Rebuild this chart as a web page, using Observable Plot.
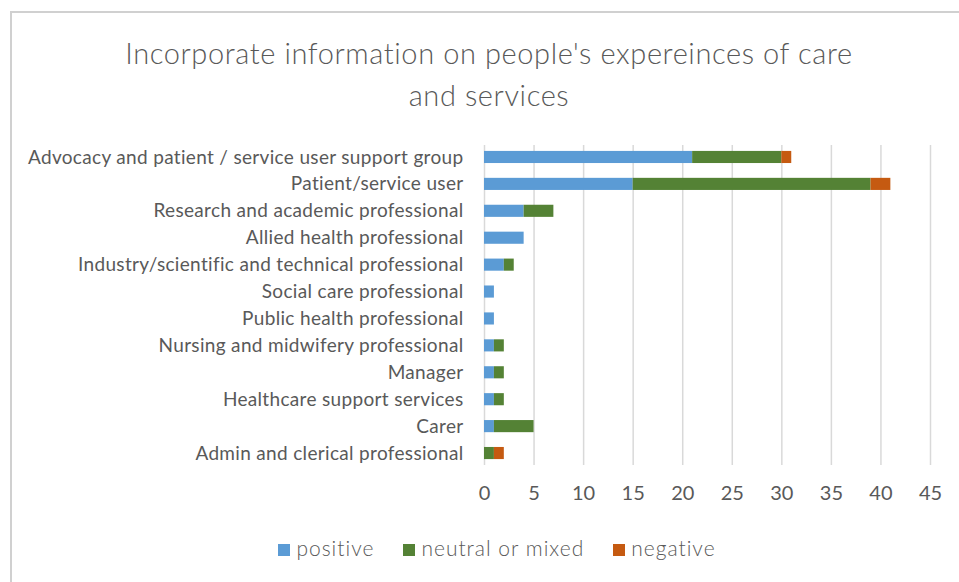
<!DOCTYPE html>
<html><head><meta charset="utf-8">
<script src="https://cdn.jsdelivr.net/npm/d3@7"></script>
<script src="https://cdn.jsdelivr.net/npm/@observablehq/plot@0.6"></script>
<style>
body{margin:0;background:#fff;font-family:Lato,"Open Sans",sans-serif;}
#wrap{position:relative;width:959px;height:582px;overflow:hidden;}
#frame{position:absolute;left:10px;top:11px;width:960px;height:600px;border-left:2px solid #d0d0d0;border-top:2px solid #d0d0d0;}
#title{position:absolute;left:0;top:32px;width:978px;text-align:center;font-size:29px;letter-spacing:0.6px;font-weight:300;color:#595959;line-height:42px;}
#chart{position:absolute;left:0;top:130px;}
#legend{position:absolute;left:0;top:535px;width:994px;display:flex;justify-content:center;gap:29px;font-size:21px;letter-spacing:1px;font-weight:300;color:#595959;}
#legend span.sw{display:inline-block;width:12px;height:12px;margin-right:6px;vertical-align:middle;position:relative;top:-1px;}
</style></head>
<body><div id="wrap"><div id="frame"></div>
<div id="title">Incorporate information on people's expereinces of care<br>and services</div>
<div id="chart"></div>
<div id="legend"></div>
</div>
<script>
const categories = ["Advocacy and patient / service user support group","Patient/service user","Research and academic professional","Allied health professional","Industry/scientific and technical professional","Social care professional","Public health professional","Nursing and midwifery professional","Manager","Healthcare support services","Carer","Admin and clerical professional"];
const positive = [21,15,4,4,2,1,1,1,1,1,1,0];
const neutral  = [9,24,3,0,1,0,0,1,1,1,4,1];
const negative = [1,2,0,0,0,0,0,0,0,0,0,1];
const seriesNames = ["positive","neutral or mixed","negative"];
const seriesColors = ["#5b9bd5","#548235","#c55a11"];
const xTicks = [0,5,10,15,20,25,30,35,40,45];

const data = [];
categories.forEach((c,i)=>{
  [positive,neutral,negative].forEach((arr,s)=>{
    data.push({category:c, series:seriesNames[s], value:arr[i]});
  });
});

const plot = Plot.plot({
  width:959, height:375,
  marginLeft:484, marginRight:29, marginTop:15, marginBottom:40,
  style:{fontFamily:"Lato, 'Open Sans', sans-serif", fontSize:"19px", color:"#595959", background:"transparent"},
  x:{domain:[0,45], ticks:xTicks, label:null},
  y:{domain:categories, label:null, paddingInner:0.55, paddingOuter:0.22, round:false},
  color:{domain:seriesNames, range:seriesColors},
  marks:[
    Plot.gridX(xTicks,{stroke:"#d9d9d9", strokeOpacity:1, strokeWidth:1.5}),
    Plot.barX(data, Plot.stackX({x:"value", y:"category", fill:"series", order:seriesNames})),
    Plot.axisY({tickSize:0, tickPadding:21, fontSize:19}),
    Plot.axisX(xTicks,{tickSize:0, tickPadding:20, fontSize:20})
  ]
});
d3.select(plot).selectAll('g[aria-label="y-axis tick label"]').attr("letter-spacing","0.33px");
document.getElementById("chart").appendChild(plot);

const lg = document.getElementById("legend");
seriesNames.forEach((n,i)=>{
  const d=document.createElement("div");
  d.innerHTML=`<span class="sw" style="background:${seriesColors[i]}"></span>${n}`;
  lg.appendChild(d);
});
</script></body></html>
